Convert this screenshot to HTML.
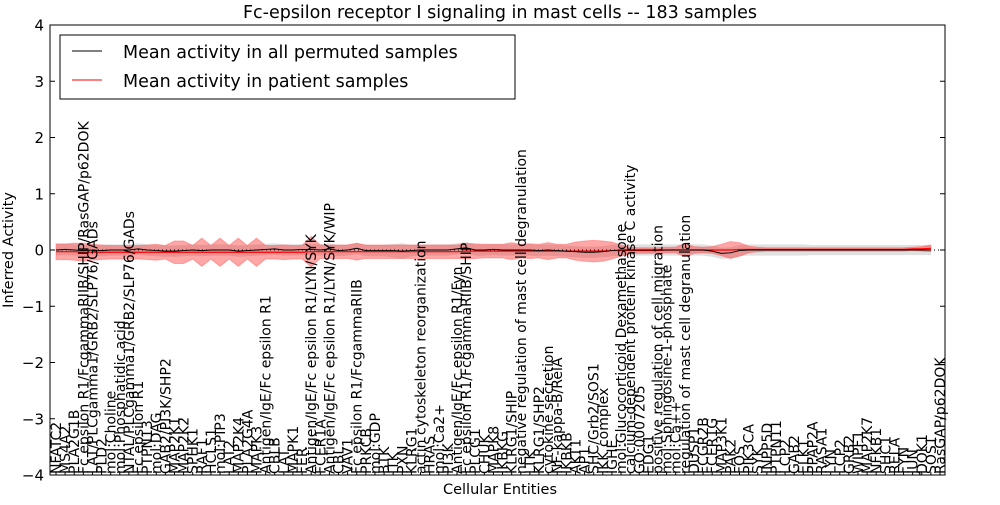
<!DOCTYPE html>
<html><head><meta charset="utf-8"><style>
body{margin:0;background:#fff;}
svg text{font-family:"DejaVu Sans","Liberation Sans",sans-serif;}
</style></head><body>
<svg id="chart" width="1000" height="500" viewBox="0 0 1000 500" xmlns="http://www.w3.org/2000/svg">
<rect x="0" y="0" width="1000" height="500" fill="#fff"/>
<text x="500" y="18" font-size="17.5" text-anchor="middle">Fc-epsilon receptor I signaling in mast cells -- 183 samples</text>
<g id="bands"></g>
<g id="lines"></g>
<g id="axes"></g>
<g id="xlabels"></g>
<text x="500" y="494" font-size="14.5" text-anchor="middle">Cellular Entities</text>
<text x="0" y="0" font-size="14.5" text-anchor="middle" transform="translate(13,250) rotate(-90)">Inferred Activity</text>
<g>
<rect x="60" y="35" width="455" height="64" fill="#fff" stroke="#000" stroke-width="1"/>
<line x1="72" y1="51" x2="102" y2="51" stroke="#000" stroke-width="1"/>
<text x="123" y="58" font-size="17.5">Mean activity in all permuted samples</text>
<line x1="72" y1="80" x2="102" y2="80" stroke="#f00" stroke-width="1"/>
<text x="123" y="87" font-size="17.5">Mean activity in patient samples</text>
</g>
</svg>
<script>
const categories=["NFATC2","MS4A2","PLA2G1B","Fc epsilon R1/FcgammaRIIB/SHIP/RasGAP/p62DOK","LAT/PLCgamma1/GRB2/SLP76/GADs","PLD2","mol:Choline","mol:Phosphatidic acid","NTAL/PLCgamma1/GRB2/SLP76/GADs","Fc epsilon R1","PTPN13","mol:DAG","GAB2/PI3K/SHP2","MAP2K1","MAP2K2","SPHK1","RAF1","HCLS1","mol:PIP3","LAT2","MAP2K4","PLA2G4A","MAPK3","Antigen/IgE/Fc epsilon R1","CBLB","LAT","MAPK1","FER","Antigen/IgE/Fc epsilon R1/LYN/SYK","FCER1A","Antigen/IgE/Fc epsilon R1/LYN/SYK/WIP","CBL","VAV1","Fc epsilon R1/FcgammaRIIB","PRKCB","mol:GDP","BTK","ITK","PXN","KLRG1","actin cytoskeleton reorganization","HRAS","mol:Ca2+","PI3K","Antigen/IgE/Fc epsilon R1/Fyn","Fc epsilon R1/FcgammaRIIB/SHIP","PLCG1","CHUK","MAPK8","IKBKG","KLRG1/SHIP","negative regulation of mast cell degranulation","LTK","KLRG1/SHP2","cytokine secretion","NF-kappa-B/RelA","IKBKB","AKT1","AP1","SHC/Grb2/SOS1","IKK complex","IGHE","mol:Glucocorticoid Dexamethasone","calcium-dependent protein kinase C activity","GO:0007205","EDG1","positive regulation of cell migration","mol:Sphingosine-1-phosphate","mol:Ca++","regulation of mast cell degranulation","DUSP1","FCGR2B","FCER1G","MAP3K1","PAK2","FOS","PIK3CA","SYK","INPP5D","PTPN11","LCP2","GAB2","ELK1","PPAP2A","RASA1","LYN","LCP2","GRB2","WIPF1","MAP2K7","NFKB1","SHC1","RELA","FYN","JUN","DOK1","SOS1","RasGAP/p62DOK"];
const patientMean=[-0.03,-0.03,-0.03,-0.04,-0.04,-0.04,-0.04,-0.04,-0.04,-0.04,-0.04,-0.04,-0.04,-0.04,-0.04,-0.04,-0.04,-0.04,-0.04,-0.04,-0.04,-0.04,-0.04,-0.04,-0.04,-0.04,-0.04,-0.04,-0.03,-0.03,-0.03,-0.03,-0.03,-0.03,-0.03,-0.03,-0.03,-0.03,-0.03,-0.03,-0.03,-0.03,-0.03,-0.03,-0.03,-0.02,-0.02,-0.02,-0.02,-0.02,-0.02,-0.02,-0.02,-0.02,-0.02,-0.02,-0.02,-0.02,-0.02,-0.02,-0.02,-0.01,-0.01,-0.01,-0.01,-0.01,-0.01,0,0,0,0,0,0,0,0,0.01,0.01,0.01,0.01,0.01,0.01,0.01,0.01,0.01,0.01,0.01,0.01,0.01,0.01,0.01,0.01,0.01,0.01,0.01,0.02,0.02,0.03];
const patientBand=[0.14,0.14,0.15,0.16,0.14,0.13,0.12,0.12,0.12,0.12,0.13,0.14,0.12,0.2,0.2,0.12,0.25,0.12,0.25,0.12,0.25,0.12,0.25,0.12,0.12,0.13,0.12,0.12,0.27,0.12,0.12,0.12,0.12,0.15,0.12,0.12,0.12,0.12,0.12,0.12,0.12,0.12,0.12,0.12,0.12,0.14,0.13,0.12,0.12,0.12,0.15,0.12,0.13,0.12,0.15,0.12,0.12,0.16,0.18,0.19,0.18,0.15,0.1,0.06,0.05,0.05,0.05,0.05,0.05,0.12,0.06,0.05,0.06,0.1,0.15,0.12,0.06,0.04,0.03,0.03,0.03,0.03,0.03,0.03,0.03,0.03,0.03,0.03,0.03,0.03,0.03,0.03,0.03,0.03,0.03,0.04,0.06];
const permutedMean=[0,0.01,0,-0.01,0,-0.01,0,0,0,0.02,0,-0.01,-0.02,-0.02,-0.01,0,-0.01,0,0,0,-0.02,-0.01,0,0.01,0.02,0,0,0.01,0.01,0,0.02,-0.01,0,0.03,-0.01,-0.01,-0.01,-0.01,-0.02,-0.01,0,0,0,0,0.02,0.04,0,0,0.01,0,0,0,0,-0.01,0,-0.01,-0.02,-0.03,-0.04,-0.04,-0.03,-0.01,0,0,0,0,0,0,0,0,0,0,-0.02,-0.06,-0.05,-0.01,0,0,0,0,0,0,0,0,0,0,0,0,0,0,0,0,0,0,0,0,0];
const permutedBand=[0.1,0.1,0.1,0.1,0.1,0.1,0.1,0.1,0.1,0.1,0.1,0.1,0.1,0.1,0.1,0.1,0.1,0.1,0.1,0.1,0.1,0.1,0.1,0.1,0.1,0.1,0.1,0.1,0.1,0.1,0.1,0.1,0.1,0.1,0.1,0.1,0.1,0.12,0.14,0.1,0.1,0.1,0.1,0.1,0.1,0.1,0.1,0.1,0.1,0.1,0.1,0.1,0.1,0.1,0.1,0.1,0.1,0.1,0.1,0.1,0.1,0.1,0.1,0.1,0.1,0.1,0.1,0.1,0.1,0.1,0.1,0.1,0.1,0.1,0.1,0.1,0.1,0.1,0.1,0.1,0.1,0.1,0.1,0.09,0.09,0.09,0.09,0.09,0.09,0.09,0.09,0.09,0.09,0.09,0.09,0.09,0.09];
const yTicks=[4,3,2,1,0,-1,-2,-3,-4];
const yTickLabels=["4","3","2","1","0","\u22121","\u22122","\u22123","\u22124"];

const L=50,R=945,T=25,B=475,NS='http://www.w3.org/2000/svg';
const xs=i=>56+i*(940-56)/(categories.length-1);
const ys=v=>250-v*(B-T)/8;
function mk(tag,attrs,parent){const e=document.createElementNS(NS,tag);for(const k in attrs)e.setAttribute(k,attrs[k]);parent.appendChild(e);return e;}
const bands=document.getElementById('bands'),lines=document.getElementById('lines'),axes=document.getElementById('axes'),xl=document.getElementById('xlabels');
function bandPath(m,b){let up=m.map((v,i)=>xs(i)+','+ys(v+b[i]));let dn=m.map((v,i)=>xs(i)+','+ys(v-b[i])).reverse();return 'M'+up.join(' L')+' L'+dn.join(' L')+'Z';}
const gb=mk('path',{d:bandPath(permutedMean,permutedBand),fill:'#bbbbbb','fill-opacity':0.45,stroke:'none'},bands);


const rb=mk('path',{d:bandPath(patientMean,patientBand),fill:'#f00','fill-opacity':0.35,stroke:'#f66','stroke-opacity':0.5,'stroke-width':1},bands);


const zl=mk('line',{x1:L,x2:R,y1:ys(0),y2:ys(0),stroke:'#000','stroke-dasharray':'1,3','stroke-width':1},lines);


const rl=mk('polyline',{points:patientMean.map((v,i)=>xs(i)+','+ys(v)).join(' '),fill:'none',stroke:'#f00','stroke-width':1.2},lines);


const bl=mk('polyline',{points:permutedMean.map((v,i)=>xs(i)+','+ys(v)).join(' '),fill:'none',stroke:'#000','stroke-width':1},lines);


const frame=mk('rect',{x:L,y:T,width:R-L,height:B-T,fill:'none',stroke:'#000','stroke-width':1},axes);


yTicks.forEach((v,k)=>{
  mk('line',{x1:L,x2:L+5,y1:ys(v),y2:ys(v),stroke:'#000'},axes);
  mk('line',{x1:R,x2:R-5,y1:ys(v),y2:ys(v),stroke:'#000'},axes);
  const t=mk('text',{x:L-6,y:ys(v)+5.5,'font-size':15,'text-anchor':'end'},axes);
  
  
  t.textContent=yTickLabels[k];
});
categories.forEach((c,i)=>{
  const x=xs(i);
  mk('line',{x1:x,x2:x,y1:B,y2:B-3,stroke:'#000'},axes);
  const t=mk('text',{x:0,y:0,'font-size':14,'text-anchor':'start',transform:'translate('+(x+5)+','+(B-1)+') rotate(-90)'},xl);
  
  
  t.textContent=c;
});
</script>
</body></html>
